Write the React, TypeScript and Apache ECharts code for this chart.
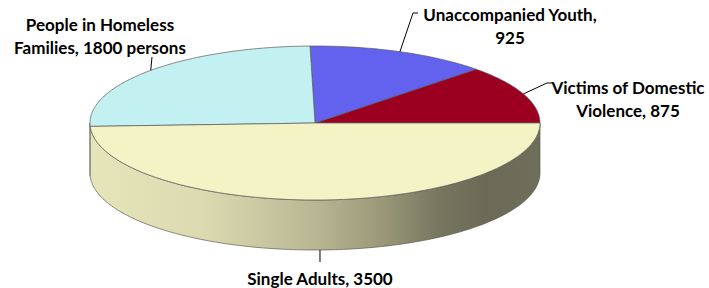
import React, { useEffect, useRef } from "react";
import * as echarts from "echarts";

// Data (ordered counter-clockwise starting at the right edge of the pie)
const categories = [
  "Victims of Domestic Violence",
  "Unaccompanied Youth",
  "People in Homeless Families",
  "Single Adults",
];
const values = [875, 925, 1800, 3500];
const labelTemplates = [
  "Victims of Domestic\nViolence, {v}",
  "Unaccompanied Youth,\n{v}",
  "People in Homeless\nFamilies, {v} persons",
  "Single Adults, {v}",
];

// Styles / layout (not data)
const topColors = ["#9c0021", "#6262ef", "#c3f0f1", "#f3f3c6"];
const PIE = { cx: 315, cy: 123, rx: 225, ry: 77, depth: 50, start: 0 };
// label centre and leader bend points (layout only)
const labelLayout = [
  { x: 628, y: 99, bends: [[547, 83], [553, 83]] },
  { x: 510, y: 26, bends: [[413, 13], [418, 13]] },
  { x: 100, y: 36, bends: [[152, 57]] },
  { x: 320, y: 278, bends: [[320, 262]] },
];

const FONT = "Lato, 'Open Sans', sans-serif";

function pt(deg: number, dy = 0): number[] {
  const r = (deg * Math.PI) / 180;
  return [PIE.cx + PIE.rx * Math.cos(r), PIE.cy - PIE.ry * Math.sin(r) + dy];
}

function arc(a0: number, a1: number, dy = 0): number[][] {
  const pts: number[][] = [];
  const n = Math.max(2, Math.ceil(Math.abs(a1 - a0)));
  for (let i = 0; i <= n; i++) pts.push(pt(a0 + ((a1 - a0) * i) / n, dy));
  return pts;
}

export default function App() {
  const ref = useRef<HTMLDivElement>(null);
  useEffect(() => {
    if (!ref.current) return;
    const chart = echarts.init(ref.current, undefined, { renderer: "svg" });
    const total = values.reduce((a, b) => a + b, 0);
    const starts: number[] = [];
    let acc = PIE.start;
    values.forEach((v) => {
      starts.push(acc);
      acc += (v / total) * 360;
    });

    const sideGradient = {
      type: "linear",
      x: PIE.cx - PIE.rx,
      y: 0,
      x2: PIE.cx + PIE.rx,
      y2: 0,
      global: true,
      colorStops: [
        { offset: 0, color: "#e6e4b9" },
        { offset: 0.25, color: "#dcdab0" },
        { offset: 0.48, color: "#bcba96" },
        { offset: 0.65, color: "#9a9878" },
        { offset: 0.78, color: "#76755e" },
        { offset: 0.88, color: "#6a6a56" },
        { offset: 1, color: "#6e6e5a" },
      ],
    };

    const renderItem = (params: any, api: any) => {
      const i = params.dataIndex;
      const v = api.value(0);
      const a0 = starts[i];
      const a1 = a0 + (v / total) * 360;
      const mid = (a0 + a1) / 2;
      const children: any[] = [];

      // side (front-facing part only: 180..360)
      const s0 = Math.max(a0, 180);
      const s1 = Math.min(a1, 360);
      if (s1 > s0) {
        const top = arc(s0, s1);
        const bot = arc(s1, s0, PIE.depth);
        children.push({
          type: "polygon",
          shape: { points: top.concat(bot) },
          style: { fill: sideGradient, stroke: "#5c5c50", lineWidth: 0.7 },
        });
      }
      // top face
      const topPts = [[PIE.cx, PIE.cy]].concat(arc(a0, a1));
      children.push({
        type: "polygon",
        shape: { points: topPts },
        style: { fill: topColors[i], stroke: "#5a5a5a", lineWidth: 0.7 },
      });

      // leader + label
      const sinMid = Math.sin((mid * Math.PI) / 180);
      const edge = pt(mid, sinMid < 0 ? PIE.depth : 0);
      const lay = labelLayout[i];
      children.push({
        type: "polyline",
        shape: { points: [edge].concat(lay.bends as number[][]) },
        style: { stroke: "#000", lineWidth: 1, fill: null },
        z2: 10,
      });
      children.push({
        type: "text",
        style: {
          text: labelTemplates[i].replace("{v}", String(v)),
          x: lay.x,
          y: lay.y,
          align: "center",
          verticalAlign: "middle",
          fontFamily: FONT,
          fontWeight: "bold",
          fontSize: 17,
          lineHeight: 23,
          fill: "#000",
        },
        z2: 10,
      });
      return { type: "group", children };
    };

    chart.setOption({
      animation: false,
      backgroundColor: "#ffffff",
      series: [
        {
          type: "custom",
          coordinateSystem: "none",
          renderItem,
          data: values.map((v, i) => ({ name: categories[i], value: [v] })),
        },
      ],
    });
    return () => chart.dispose();
  }, []);
  return (
    <div
      ref={ref}
      style={{ position: "absolute", left: 0, top: 0, width: 709, height: 288 }}
    />
  );
}
